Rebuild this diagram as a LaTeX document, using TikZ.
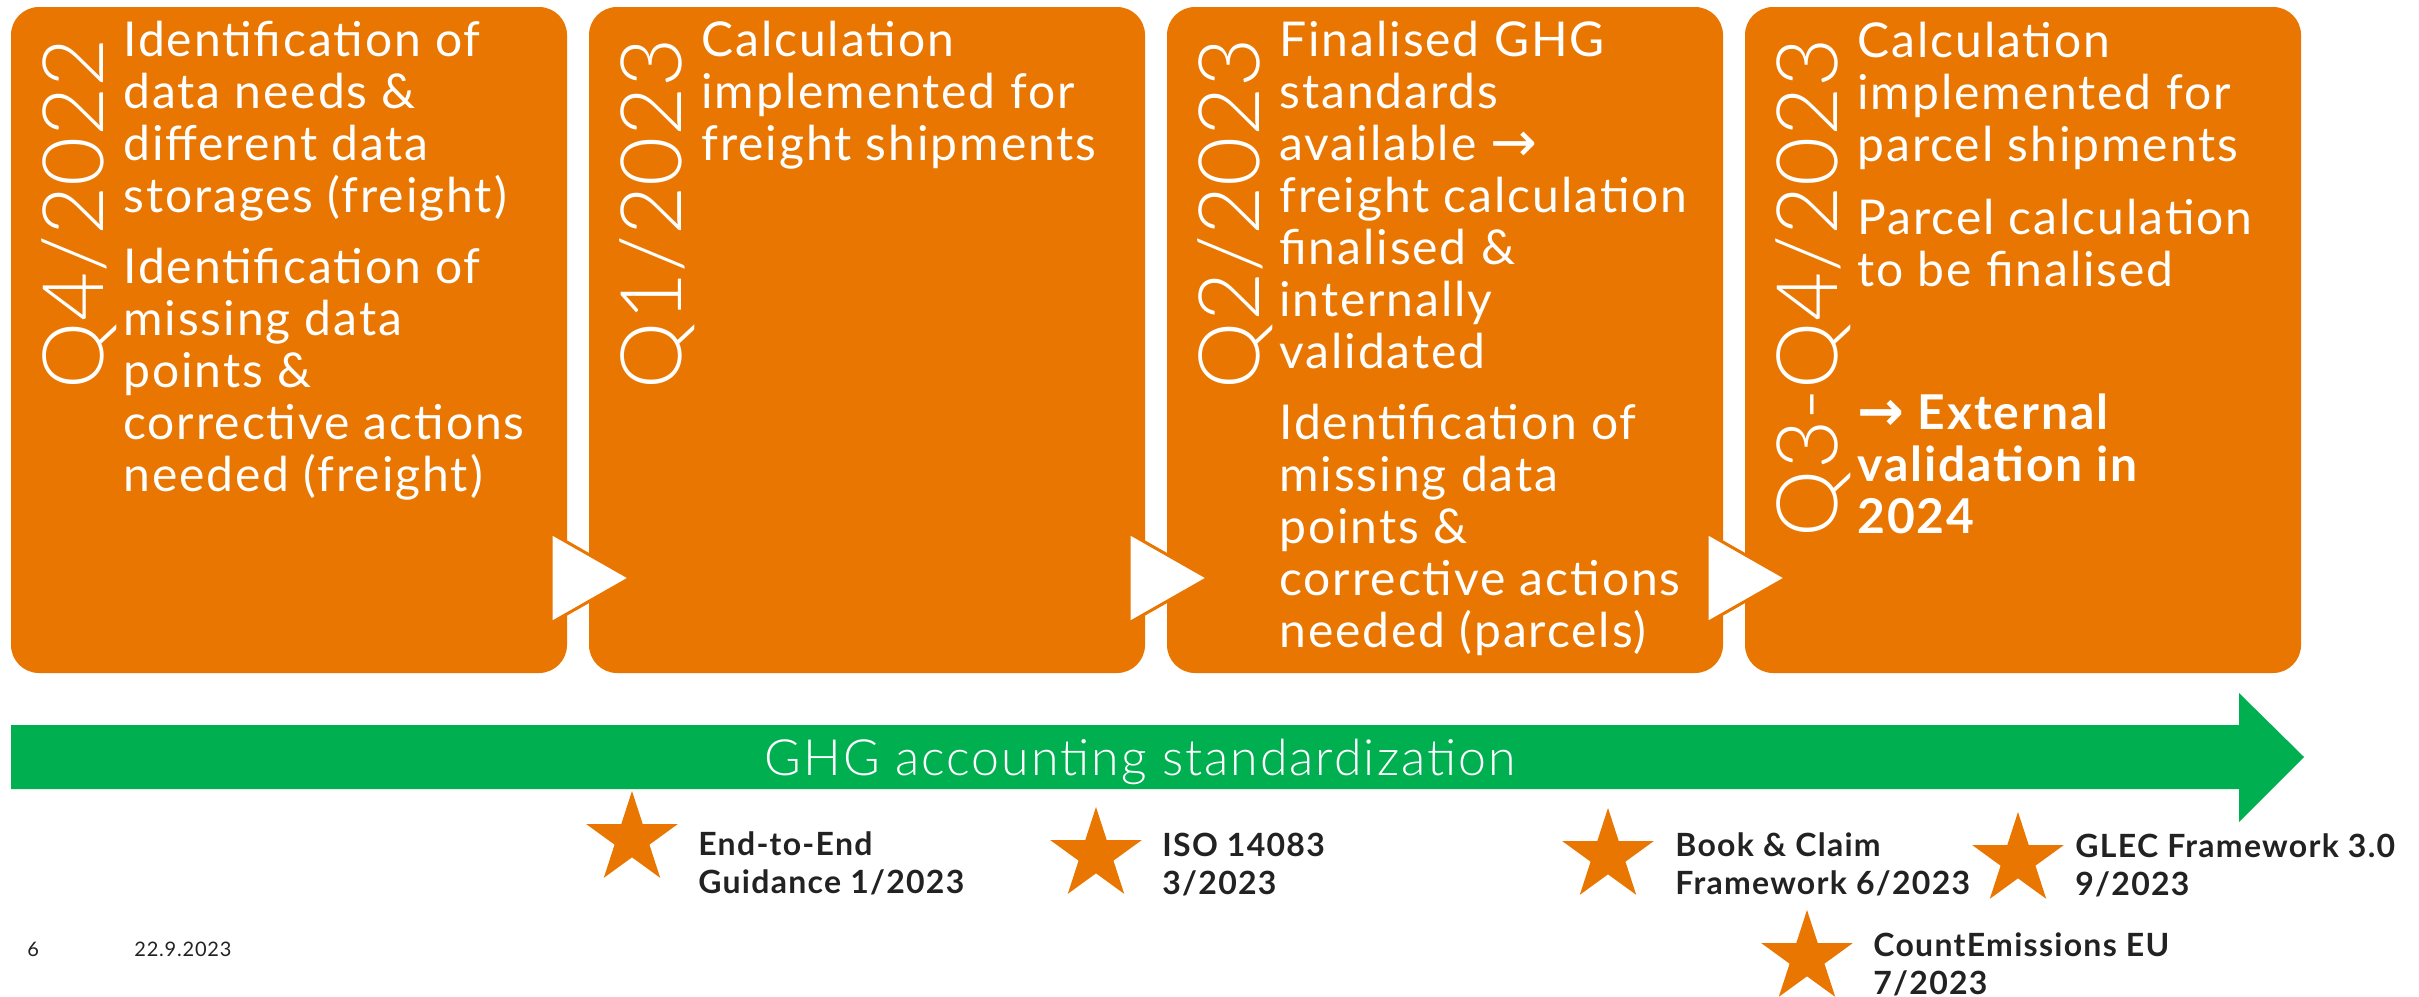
\documentclass[tikz,border=0pt]{standalone}
\usepackage{fontspec}
\setmainfont{Lato}[LetterSpace=4]
\newfontfamily\thinfont{Lato Light}
\newfontfamily\barfont{Lato Light}[LetterSpace=4]
\newfontfamily\symfont{DejaVu Sans}
\usetikzlibrary{shapes.geometric}
\definecolor{phaseorange}{RGB}{232,118,0}
\definecolor{bargreen}{RGB}{0,176,80}
\definecolor{labelgray}{RGB}{34,34,34}
\newcommand{\nextarrow}{{\symfont\fontsize{28}{26}\selectfont\raisebox{-0.5pt}{→}}}
\begin{document}
\begin{tikzpicture}[x=0.5pt,y=-0.5pt,
    phase/.style={fill=phaseorange,rounded corners=14pt,minimum width=278pt,minimum height=333pt,inner sep=0},
    year/.style={text=white,font=\thinfont\fontsize{42.5}{44}\selectfont,rotate=90,anchor=base east,inner sep=0},
    todo/.style={text=white,font=\fontsize{24}{26}\selectfont,align=left,anchor=base west,inner sep=0},
    milestone/.style={star,star points=5,star point ratio=2.618,fill=phaseorange,minimum size=48pt,inner sep=0},
    mslabel/.style={text=labelgray,font=\bfseries\fontsize{16}{19}\selectfont,align=left,anchor=base west,inner sep=0}]
    \useasboundingbox (0,0) rectangle (2419,996);
    \node[phase] (p1) at (289,340) {};
    \node[phase] (p2) at (867,340) {};
    \node[phase] (p3) at (1445,340) {};
    \node[phase] (p4) at (2023,340) {};
    \foreach \i in {0,1,2}
        \filldraw[fill=white,draw=phaseorange,line width=1.5pt] ({551+578*\i},533) -- ++(79,45) -- ++(-79,45) -- cycle;
    \node[year] (y1) at (103,38)  {Q4/2022};
    \node[year] (y2) at (681,38)  {Q1/2023};
    \node[year] (y3) at (1259,38) {Q2/2023};
    \node[year] (y4) at (1837,38) {Q3-Q4/2023};
    % base = last line of each block
    \node[todo] (t1a) at (123,212) {Identification of\\data needs \&\\different data\\storages (freight)};
    \node[todo] (t1b) at (123,491) {Identification of\\missing data\\points \&\\corrective actions\\needed (freight)};
    \node[todo] (t2a) at (701,160) {Calculation\\implemented for\\freight shipments};
    \node[todo] (t3a) at (1279,368) {Finalised GHG\\standards\\available \nextarrow\\freight calculation\\finalised \&\\internally\\validated};
    \node[todo] (t3b) at (1279,647) {Identification of\\missing data\\points \&\\corrective actions\\needed (parcels)};
    \node[todo] (t4a) at (1857,161) {Calculation\\implemented for\\parcel shipments};
    \node[todo] (t4b) at (1857,286) {Parcel calculation\\to be finalised};
    \node[todo,font=\bfseries\fontsize{24}{26}\selectfont] (t4c) at (1857,533) {\nextarrow{} External\\validation in\\2024};
    \fill[bargreen] (11,725) -- (2239,725) -- (2239,693) -- (2304,757) -- (2239,822) -- (2239,789) -- (11,789) -- cycle;
    \node[text=white,font=\barfont\fontsize{25}{26}\selectfont,anchor=base,inner sep=0] (bar) at (1140,775) {GHG accounting standardization};
    \node[milestone] (s1) at (632,839) {};
    \node[mslabel] (l1) at (698,893) {End-to-End\\Guidance 1/2023};
    \node[milestone] (s2) at (1096,855) {};
    \node[mslabel] (l2) at (1162,894) {ISO 14083\\3/2023};
    \node[milestone] (s3) at (1608,856) {};
    \node[mslabel] (l3) at (1675,894) {Book \& Claim\\Framework 6/2023};
    \node[milestone] (s4) at (2018,860) {};
    \node[mslabel] (l4) at (2075,895) {GLEC Framework 3.0\\9/2023};
    \node[milestone] (s5) at (1807,958) {};
    \node[mslabel] (l5) at (1873,994) {CountEmissions EU\\7/2023};
    \node[text=labelgray,font=\fontsize{10}{12}\selectfont,anchor=base west,inner sep=0] (page) at (27,956) {6};
    \node[text=labelgray,font=\fontsize{10}{12}\selectfont,anchor=base west,inner sep=0] (date) at (134,956) {22.9.2023};
\end{tikzpicture}
\end{document}
